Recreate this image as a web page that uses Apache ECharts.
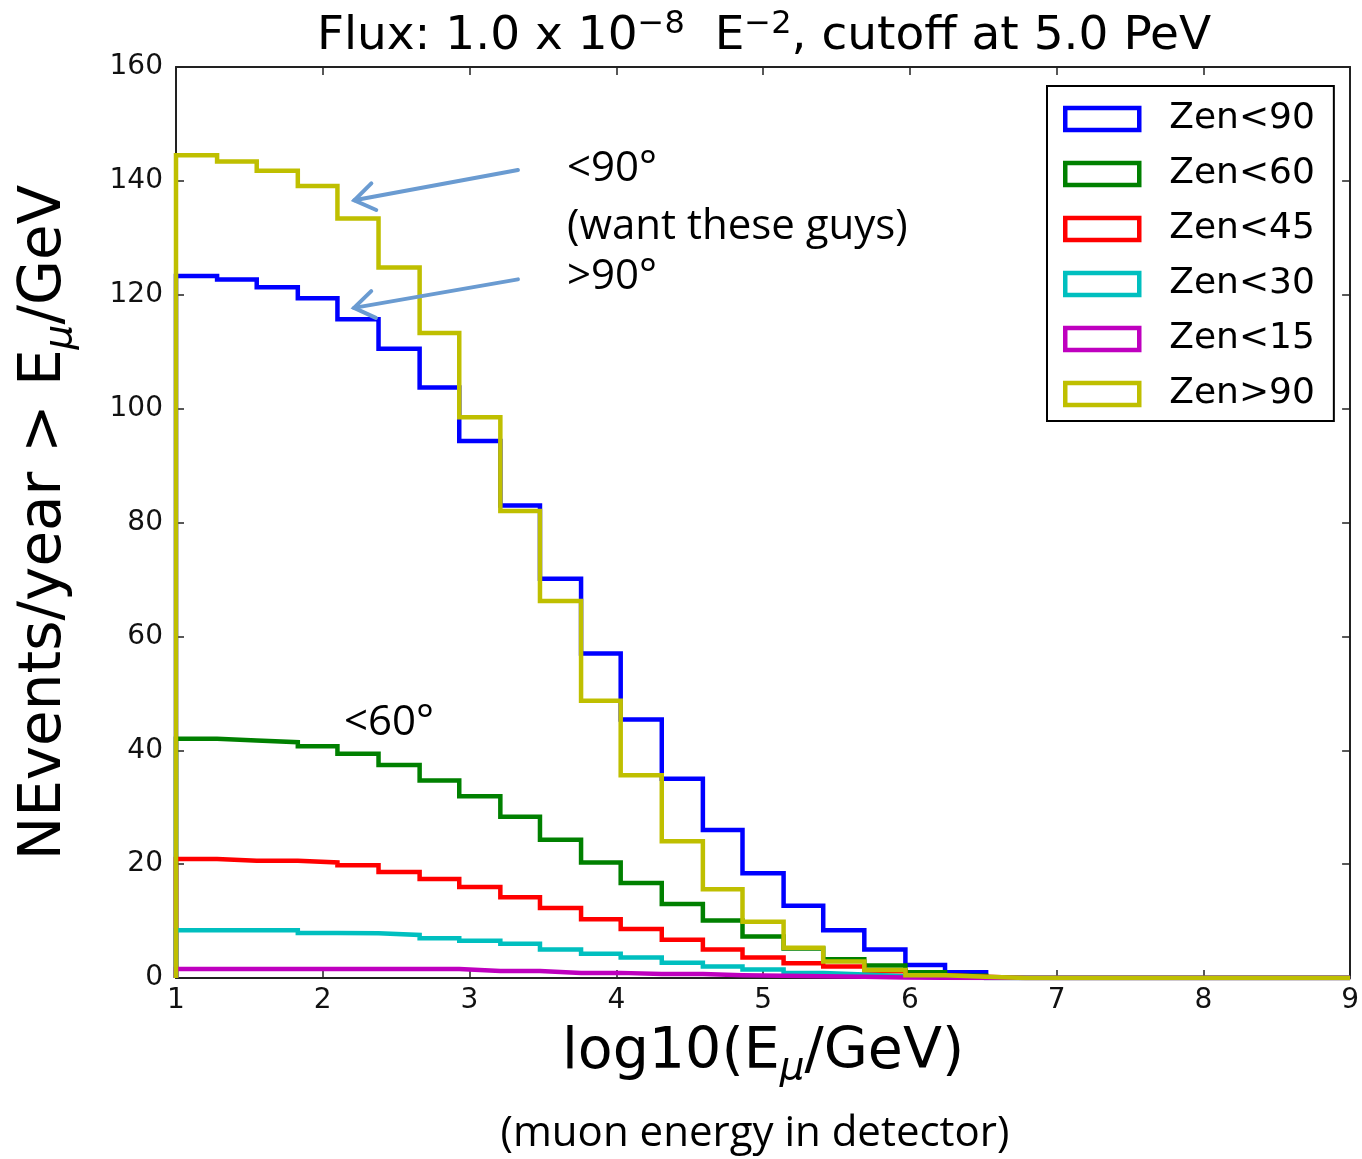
<!DOCTYPE html>
<html>
<head>
<meta charset="utf-8">
<script src="https://cdn.jsdelivr.net/npm/echarts@6.0.0/dist/echarts.min.js"></script>
<style>
  html, body { margin: 0; padding: 0; background: #fff; }
  #chart { width: 1362px; height: 1159px; }
</style>
</head>
<body>
<div id="chart"></div>
<script>
// histogram bin edges, log10(E_mu/GeV)
const binEdges = [1.00, 1.28, 1.55, 1.83, 2.10, 2.38, 2.66, 2.93, 3.21, 3.48,
  3.76, 4.03, 4.31, 4.59, 4.86, 5.14, 5.41, 5.69, 5.97, 6.24,
  6.52, 6.79, 7.07, 7.34, 7.62, 7.90, 8.17, 8.45, 8.72, 9.00];

// NEvents/year per bin
const zenLt90 = [123.3, 122.7, 121.3, 119.4, 115.7, 110.5, 103.7, 94.3, 83.0, 70.1,
  57.0, 45.4, 35.0, 26.0, 18.4, 12.7, 8.4, 5.0, 2.3, 1.0, 0, 0, 0, 0, 0, 0, 0, 0, 0];
const zenLt60 = [42.0, 41.7, 41.4, 40.7, 39.4, 37.4, 34.7, 31.9, 28.3, 24.3,
  20.3, 16.7, 13.0, 10.1, 7.3, 5.2, 3.3, 2.2, 1.0, 0.4, 0, 0, 0, 0, 0, 0, 0, 0, 0];
const zenLt45 = [20.9, 20.6, 20.6, 20.3, 19.8, 18.6, 17.4, 16.0, 14.2, 12.3,
  10.3, 8.6, 6.7, 5.0, 3.6, 2.6, 2.0, 1.2, 0.5, 0.2, 0, 0, 0, 0, 0, 0, 0, 0, 0];
const zenLt30 = [8.4, 8.4, 8.4, 7.9, 7.85, 7.55, 7.0, 6.55, 6.0, 5.0,
  4.25, 3.6, 2.7, 2.0, 1.5, 0.9, 0.6, 0.3, 0.1, 0.05, 0, 0, 0, 0, 0, 0, 0, 0, 0];
const zenLt15 = [1.6, 1.6, 1.6, 1.6, 1.6, 1.6, 1.6, 1.25, 1.25, 0.9,
  0.9, 0.7, 0.7, 0.5, 0.4, 0.3, 0.2, 0.1, 0.05, 0.02, 0, 0, 0, 0, 0, 0, 0, 0, 0];
const zenGt90 = [144.5, 143.4, 141.8, 139.1, 133.4, 124.8, 113.3, 98.5, 82.0, 66.2,
  48.7, 35.6, 24.0, 15.6, 9.9, 5.3, 2.9, 1.4, 0.5, 0.2, 0, 0, 0, 0, 0, 0, 0, 0, 0];

const zenNames = ["Zen<90", "Zen<60", "Zen<45", "Zen<30", "Zen<15", "Zen>90"];
const zenColors = ["#0000ff", "#008000", "#ff0000", "#00bfbf", "#bf00bf", "#bfbf00"];
const zenCounts = [zenLt90, zenLt60, zenLt45, zenLt30, zenLt15, zenGt90];

// annotation arrows (data coords): tail -> tip
const arrowTails = [[3.33, 141.9], [3.33, 122.7]];
const arrowTips = [[2.215, 136.6], [2.213, 117.7]];

const MPL_FONT = "'DejaVu Sans', sans-serif";
const NOTE_FONT = "'Open Sans', sans-serif";
const ARROW_COLOR = "#6a9bd1";

// outline of a step histogram: up from 0 at the first edge, across, down at the last
function histStep(counts) {
  const pts = [[binEdges[0], 0]];
  counts.forEach((c, i) => pts.push([binEdges[i + 1], c]));
  pts.push([binEdges[binEdges.length - 1], 0]);
  return pts;
}

const chart = echarts.init(document.getElementById("chart"));

const frameAxis = {
  axisLine: { show: true, onZero: false, lineStyle: { color: "#222", width: 2 } },
  axisTick: { show: true, inside: true, length: 8, lineStyle: { color: "#222", width: 1.5 } },
  splitLine: { show: false },
};

const mathRich = (size) => ({
  n: { fontFamily: MPL_FONT, fontSize: size, lineHeight: 70, color: "#000" },
  s: { fontFamily: MPL_FONT, fontSize: Math.round(size * 0.68), fontStyle: "italic",
       lineHeight: 28, verticalAlign: "bottom", color: "#000" },
});

const option = {
  animation: false,
  backgroundColor: "#fff",
  title: {
    text: "{n|Flux: 1.0 x 10}{p|\u22128}{n|  E}{p|\u22122}{n|, cutoff at 5.0 PeV}",
    left: 759,
    top: 4,
    textAlign: "center",
    textStyle: {
      fontWeight: "normal",
      rich: {
        n: { fontFamily: MPL_FONT, fontSize: 47, fontWeight: "normal", lineHeight: 56, color: "#000" },
        p: { fontFamily: MPL_FONT, fontSize: 32, fontWeight: "normal", lineHeight: 30, verticalAlign: "top", color: "#000" },
      },
    },
  },
  grid: { left: 176, top: 67, width: 1176, height: 911, containLabel: false },
  legend: {
    orient: "vertical",
    left: 1047,
    top: 86,
    padding: [15, 19, 9, 16],
    itemGap: 19,
    itemWidth: 74,
    itemHeight: 22,
    icon: "rect",
    borderColor: "#000",
    borderWidth: 2,
    backgroundColor: "#fff",
    selectedMode: false,
    formatter: "{t|{name}}",
    textStyle: {
      rich: { t: { fontFamily: MPL_FONT, fontSize: 36, lineHeight: 40, color: "#000", padding: [0, 0, 0, 25] } },
    },
    data: zenNames.map((name, i) => ({
      name,
      itemStyle: { color: "transparent", borderColor: zenColors[i], borderWidth: 4.5 },
    })),
  },
  xAxis: [
    {
      type: "value", min: 1, max: 9, interval: 1, position: "bottom",
      ...frameAxis,
      axisLabel: { fontFamily: MPL_FONT, fontSize: 28, color: "#111", margin: 9 },
      name: "{n|log10(E}{s|\u03bc}{n|/GeV)}",
      nameLocation: "middle",
      nameGap: 40,
      nameTextStyle: { rich: mathRich(57) },
    },
    {
      type: "value", min: 1, max: 9, interval: 1, position: "top",
      ...frameAxis,
      axisLabel: { show: false },
    },
  ],
  yAxis: [
    {
      type: "value", min: 0, max: 160, interval: 20, position: "left",
      ...frameAxis,
      axisLabel: { fontFamily: MPL_FONT, fontSize: 28, color: "#111", margin: 13, padding: [6, 0, 0, 0] },
      name: "{n|NEvents/year > E}{s|\u03bc}{n|/GeV}",
      nameLocation: "middle",
      nameGap: 96,
      nameTextStyle: { rich: mathRich(58) },
    },
    {
      type: "value", min: 0, max: 160, interval: 20, position: "right",
      ...frameAxis,
      axisLabel: { show: false },
    },
  ],
  series: zenNames.map((name, i) => ({
    name,
    type: "line",
    step: "start",
    data: histStep(zenCounts[i]),
    symbol: "none",
    showSymbol: false,
    lineStyle: { color: zenColors[i], width: 4.5, join: "miter", cap: "butt" },
    itemStyle: { color: zenColors[i] },
    emphasis: { disabled: true },
    z: 2 + i,
  })),
};

chart.setOption(option);

// overlay notes added on top of the plot
function noteText(text, x, y, align) {
  return {
    type: "text", x, y, z: 20, silent: true,
    style: { text, fontFamily: NOTE_FONT, fontSize: 42, fill: "#000", align: align || "left", verticalAlign: "middle" },
  };
}

function arrowEls() {
  const els = [];
  arrowTails.forEach((tail, i) => {
    const a = chart.convertToPixel({ xAxisIndex: 0, yAxisIndex: 0 }, tail);
    const b = chart.convertToPixel({ xAxisIndex: 0, yAxisIndex: 0 }, arrowTips[i]);
    const ang = Math.atan2(a[1] - b[1], a[0] - b[0]);
    const len = 24, spread = 0.6;
    const h1 = [b[0] + len * Math.cos(ang - spread), b[1] + len * Math.sin(ang - spread)];
    const h2 = [b[0] + len * Math.cos(ang + spread), b[1] + len * Math.sin(ang + spread)];
    els.push({ type: "polyline", z: 20, silent: true, shape: { points: [a, b] },
      style: { stroke: ARROW_COLOR, lineWidth: 4, lineCap: "round", fill: null } });
    els.push({ type: "polyline", z: 20, silent: true, shape: { points: [h1, b, h2] },
      style: { stroke: ARROW_COLOR, lineWidth: 4, lineCap: "round", lineJoin: "miter", fill: null } });
  });
  return els;
}

chart.setOption({
  graphic: [
    noteText("<90\u00b0", 567, 169),
    noteText("(want these guys)", 567, 227),
    noteText(">90\u00b0", 567, 277),
    noteText("<60\u00b0", 344, 723),
    noteText("(muon energy in detector)", 755, 1134, "center"),
  ].concat(arrowEls()),
});
</script>
</body>
</html>
